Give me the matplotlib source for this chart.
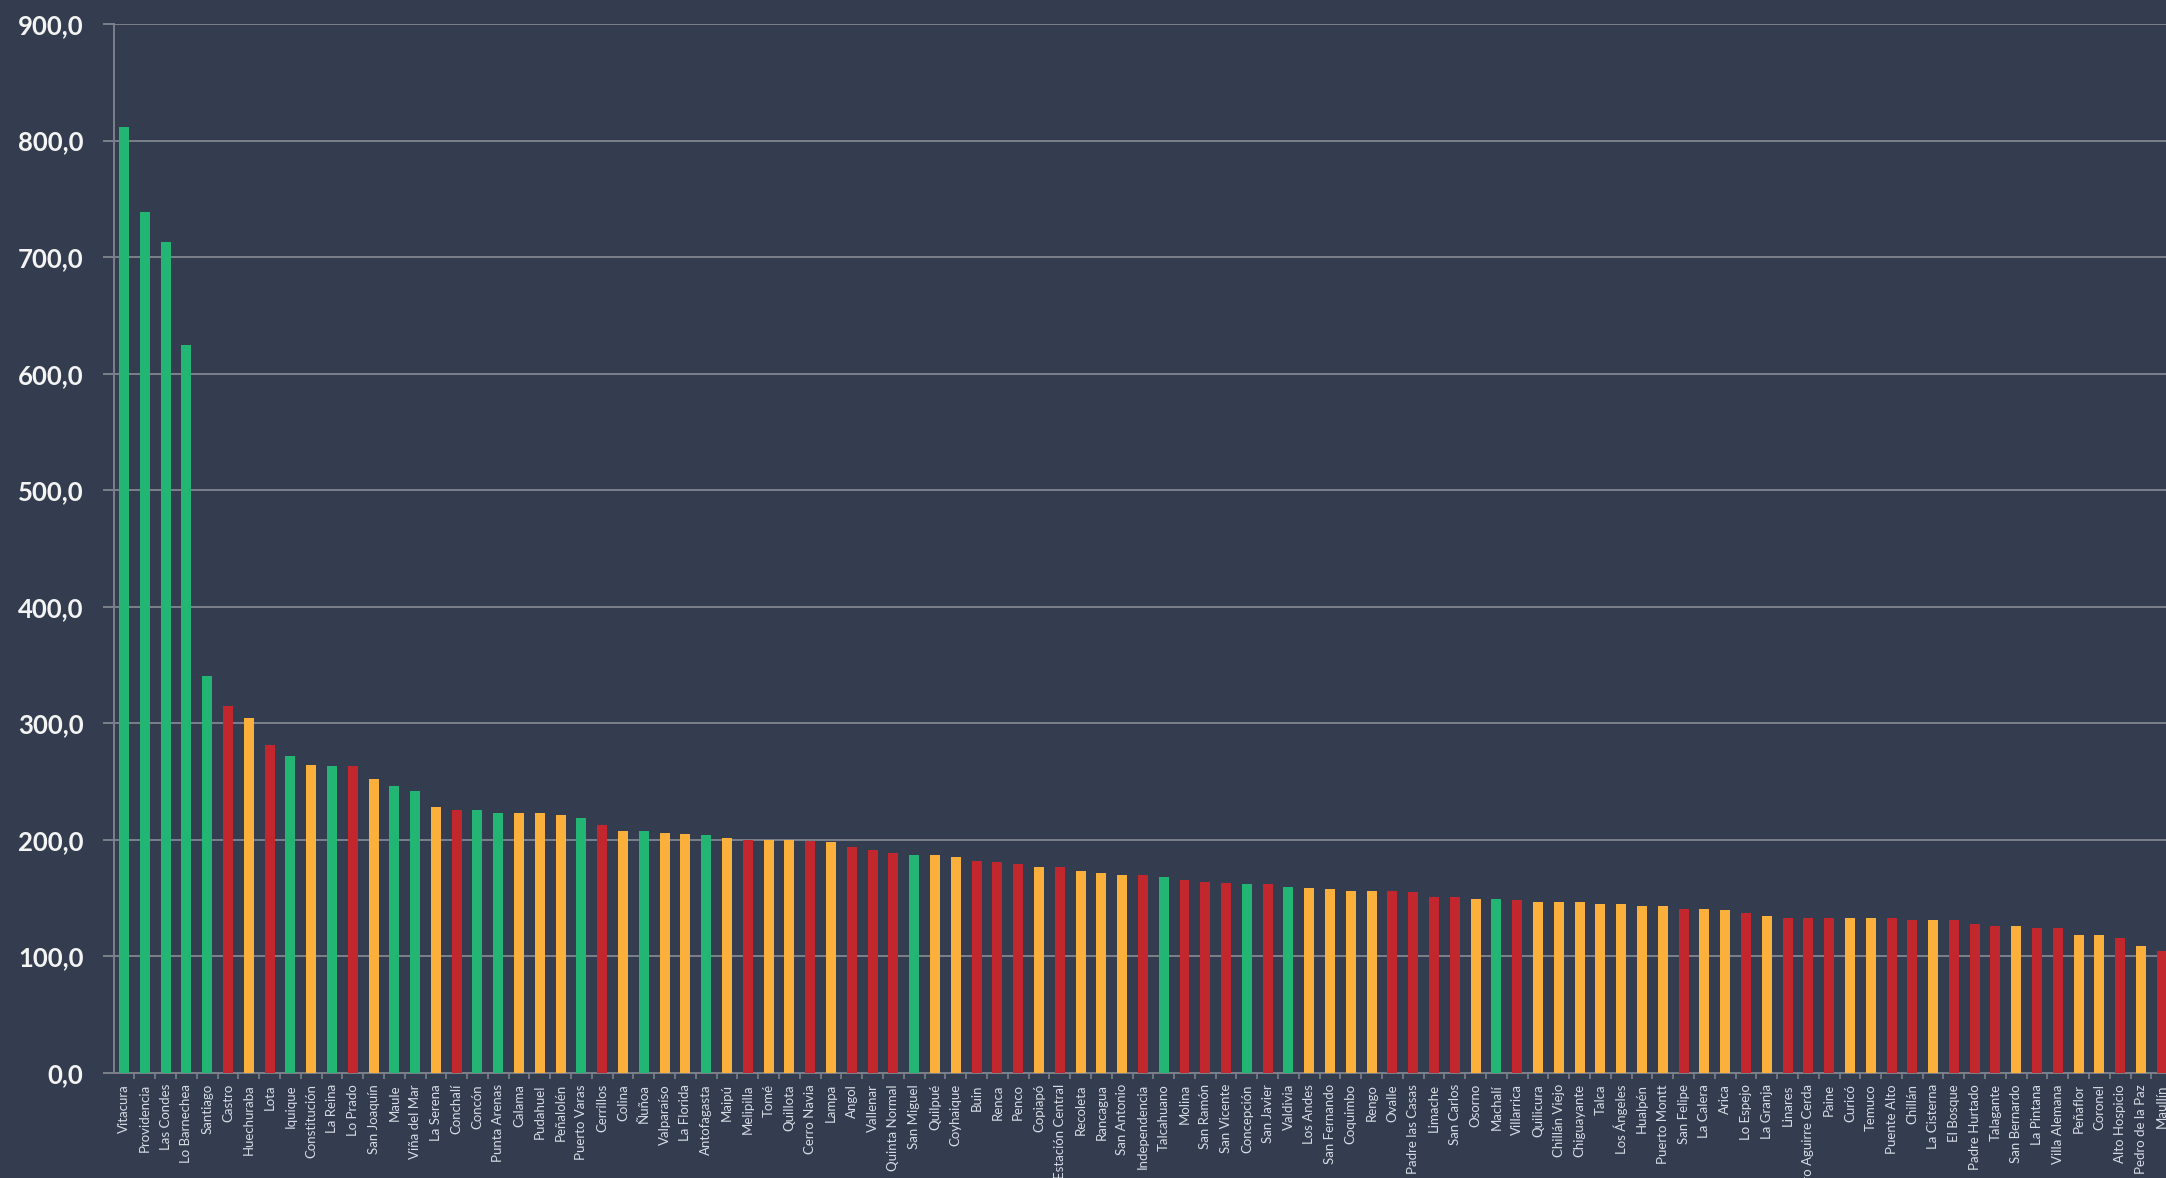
import numpy as np
import matplotlib.pyplot as plt
from matplotlib.ticker import FuncFormatter, MultipleLocator

# communes, value and colour group (G = green, Y = yellow, R = red)
communes = [
    'Vitacura', 'Providencia', 'Las Condes', 'Lo Barnechea', 'Santiago', 'Castro',
    'Huechuraba', 'Lota', 'Iquique', 'Constitución', 'La Reina', 'Lo Prado',
    'San Joaquín', 'Maule', 'Viña del Mar', 'La Serena', 'Conchalí', 'Concón',
    'Punta Arenas', 'Calama', 'Pudahuel', 'Peñalolén', 'Puerto Varas', 'Cerrillos',
    'Colina', 'Ñuñoa', 'Valparaíso', 'La Florida', 'Antofagasta', 'Maipú',
    'Melipilla', 'Tomé', 'Quillota', 'Cerro Navia', 'Lampa', 'Angol',
    'Vallenar', 'Quinta Normal', 'San Miguel', 'Quilpué', 'Coyhaique', 'Buin',
    'Renca', 'Penco', 'Copiapó', 'Estación Central', 'Recoleta', 'Rancagua',
    'San Antonio', 'Independencia', 'Talcahuano', 'Molina', 'San Ramón', 'San Vicente',
    'Concepción', 'San Javier', 'Valdivia', 'Los Andes', 'San Fernando', 'Coquimbo',
    'Rengo', 'Ovalle', 'Padre las Casas', 'Limache', 'San Carlos', 'Osorno',
    'Machalí', 'Villarrica', 'Quilicura', 'Chillán Viejo', 'Chiguayante', 'Talca',
    'Los Ángeles', 'Hualpén', 'Puerto Montt', 'San Felipe', 'La Calera', 'Arica',
    'Lo Espejo', 'La Granja', 'Linares', 'Pedro Aguirre Cerda', 'Paine', 'Curicó',
    'Temuco', 'Puente Alto', 'Chillán', 'La Cisterna', 'El Bosque', 'Padre Hurtado',
    'Talagante', 'San Bernardo', 'La Pintana', 'Villa Alemana', 'Peñaflor', 'Coronel',
    'Alto Hospicio', 'Pedro de la Paz', 'Maullín',
]
values = [
    812, 739, 713, 625, 341, 315,
    305, 281, 272, 264, 263, 263,
    252, 246, 242, 228, 226, 226,
    223, 223, 223, 221, 219, 213,
    208, 208, 206, 205, 204, 202,
    200, 200, 200, 199, 198, 194,
    191, 189, 187, 187, 185, 182,
    181, 179, 177, 177, 173, 172,
    170, 170, 168, 166, 164, 163,
    162, 162, 160, 159, 158, 156,
    156, 156, 155, 151, 151, 149,
    149, 148, 147, 147, 147, 145,
    145, 143, 143, 141, 141, 140,
    137, 135, 133, 133, 133, 133,
    133, 133, 131, 131, 131, 128,
    126, 126, 124, 124, 118, 118,
    116, 109, 105,
]
groups = list(
    'GGGGGRYRGYGRYGGYRGGYYYGRYGYYGYRYYRYRRRGYYRRRYRYYYRGRRRGRGYYYYRRRRYGRYYYYYYYRYYRYRRRYYRRYRRRYRRYYRYR'
)

palette = {'G': '#22b573', 'Y': '#fbb03b', 'R': '#c1272d'}
bg = '#333d4f'
line_col = '#7b808a'

fig = plt.figure(figsize=(21.66, 11.78), dpi=100, facecolor=bg)
ax = fig.add_axes([114 / 2166, 1 - 1073 / 1178, 1 - 114 / 2166, (1073 - 24) / 1178])
ax.set_facecolor(bg)

x = np.arange(len(values))
ax.bar(x, values, width=0.48, color=[palette[g] for g in groups], zorder=3)

ax.set_ylim(0, 900)
ax.set_xlim(-0.48, 98.2)
ax.yaxis.set_major_locator(MultipleLocator(100))
ax.yaxis.set_major_formatter(FuncFormatter(lambda v, p: f'{v:.1f}'.replace('.', ',')))
ax.grid(axis='y', color=line_col, linewidth=1.4, zorder=0)
ax.set_axisbelow(True)

for side in ['top', 'right']:
    ax.spines[side].set_visible(False)
for side in ['left', 'bottom']:
    ax.spines[side].set_color(line_col)
    ax.spines[side].set_linewidth(1.4)

ax.tick_params(axis='y', length=8, width=1.4, color=line_col, pad=14, labelcolor='#f4f4f4')
for lbl in ax.get_yticklabels():
    lbl.set_fontfamily('Lato')
    lbl.set_fontweight('bold')
    lbl.set_fontsize(18.5)

ax.set_xticks(x)
ax.set_xticklabels(communes, rotation=90, fontsize=9.5, family='Lato', color='#d8dce4')
ax.tick_params(axis='x', which='major', length=0, pad=8)
ax.set_xticks(x[:-1] + 0.5, minor=True)
ax.tick_params(axis='x', which='minor', length=4, width=1.2, color=line_col)

fig.savefig('out.png', dpi=100, facecolor=bg)
